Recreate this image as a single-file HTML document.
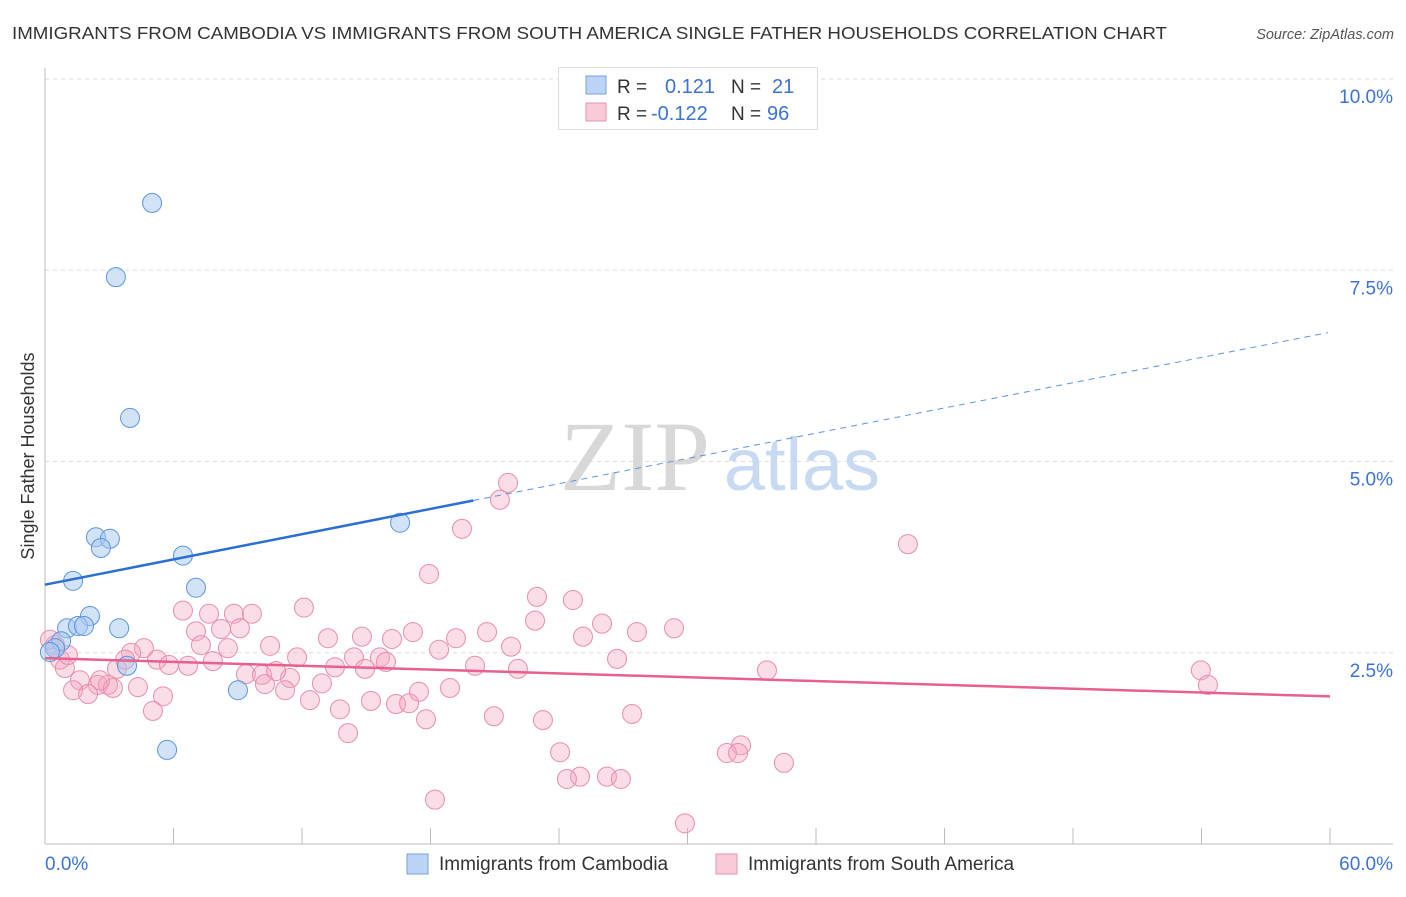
<!DOCTYPE html>
<html><head><meta charset="utf-8"><style>
body{margin:0;background:#fff;font-family:"Liberation Sans",sans-serif}
</style></head><body>
<svg width="1406" height="892" viewBox="0 0 1406 892" xmlns="http://www.w3.org/2000/svg">
<text x="12" y="39" font-size="17.5" fill="#333" textLength="1155" lengthAdjust="spacingAndGlyphs">IMMIGRANTS FROM CAMBODIA VS IMMIGRANTS FROM SOUTH AMERICA SINGLE FATHER HOUSEHOLDS CORRELATION CHART</text>
<text x="1394" y="39" font-size="14.5" fill="#555" font-style="italic" text-anchor="end">Source: ZipAtlas.com</text>
<g id="grid"></g>
<text x="635" y="490" font-size="100" fill="#d8d8d8" font-family="Liberation Serif,serif" text-anchor="middle">ZIP</text>
<text x="802" y="490" font-size="74" fill="#c8daf2" text-anchor="middle">atlas</text>
<g id="axes"></g>
<g id="pts"></g>
<g id="lines"></g>
<text transform="translate(34,456) rotate(-90)" font-size="18" fill="#333" text-anchor="middle">Single Father Households</text>
<g>
<rect x="558.5" y="67.5" width="259" height="62" fill="#fff" stroke="#ddd"/>
<rect x="586" y="76" width="20" height="18" fill="#bcd4f4" stroke="#6f9fe0"/>
<rect x="586" y="103" width="20" height="18" fill="#f9cad8" stroke="#ea93ac"/>
<text x="617" y="93" font-size="19" fill="#333">R = </text><text x="665" y="93" font-size="20" fill="#3b73d4">0.121</text>
<text x="731" y="93" font-size="19" fill="#333">N = </text><text x="772" y="93" font-size="20" fill="#3b73d4">21</text>
<text x="617" y="120" font-size="19" fill="#333">R = </text><text x="651" y="120" font-size="20" fill="#3b73d4">-0.122</text>
<text x="731" y="120" font-size="19" fill="#333">N = </text><text x="767" y="120" font-size="20" fill="#3b73d4">96</text>
</g>
<g>
<rect x="407" y="854" width="21" height="20" fill="#bcd4f4" stroke="#6f9fe0"/>
<text x="439" y="870" font-size="19" fill="#333">Immigrants from Cambodia</text>
<rect x="716" y="854" width="21" height="20" fill="#f9cad8" stroke="#ea93ac"/>
<text x="748" y="870" font-size="19" fill="#333">Immigrants from South America</text>
</g>
</svg>
<script>
const blueX=[5.0,3.31,3.97,2.38,3.03,2.61,6.44,1.31,7.05,2.10,1.03,1.54,1.82,3.46,0.75,0.47,0.23,3.83,9.01,5.70,16.58];
const blueY=[8.38,7.41,5.57,4.01,3.99,3.87,3.77,3.44,3.35,2.98,2.82,2.85,2.85,2.82,2.65,2.56,2.51,2.33,2.01,1.23,4.20];
const pinkX=[21.62,21.24,19.47,40.29,17.93,22.97,24.65,12.09,6.44,7.66,8.82,9.66,22.88,26.01,29.37,7.05,8.22,9.10,17.18,20.64,27.64,25.12,13.21,14.80,16.20,19.19,4.62,7.28,8.54,10.51,21.76,18.40,4.02,11.77,14.43,15.64,5.23,7.84,15.92,26.71,5.79,6.68,20.08,13.54,14.94,22.08,33.71,53.97,3.36,9.38,10.13,11.44,10.79,12.93,1.63,2.47,2.94,3.17,4.34,10.27,11.21,17.46,18.91,54.30,1.31,2.01,5.51,12.37,15.22,16.39,17.00,5.04,13.77,20.96,23.25,27.41,17.79,14.15,24.05,32.50,31.84,32.36,34.50,24.98,24.37,26.24,26.89,18.21,29.88,0.47,0.70,0.93,0.23,1.07,2.57,3.74];
const pinkY=[4.72,4.50,4.12,3.92,3.53,3.23,3.19,3.09,3.05,3.01,3.01,3.01,2.92,2.88,2.82,2.78,2.81,2.82,2.77,2.77,2.77,2.71,2.69,2.71,2.68,2.69,2.56,2.60,2.56,2.59,2.58,2.54,2.50,2.44,2.44,2.44,2.41,2.39,2.38,2.42,2.34,2.33,2.33,2.31,2.29,2.29,2.27,2.27,2.29,2.22,2.21,2.17,2.26,2.10,2.14,2.08,2.08,2.04,2.05,2.09,2.01,1.99,2.04,2.08,2.01,1.96,1.93,1.88,1.87,1.83,1.84,1.74,1.76,1.67,1.62,1.70,1.63,1.45,1.20,1.29,1.19,1.19,1.06,0.88,0.85,0.88,0.85,0.58,0.27,2.60,2.41,2.30,2.67,2.47,2.14,2.41];
const yTicks=[2.5,5,7.5,10];
const yTickLabels=["2.5%","5.0%","7.5%","10.0%"];
const blueTrend=[3.39,6.69];
const pinkTrend=[2.43,1.93];
const blueSolidEnd=20.0;
const NS="http://www.w3.org/2000/svg";
const X=v=>45+v/60*1285, Y=v=>844-v/10*765;
function mk(t,a,p){const e=document.createElementNS(NS,t);for(const k in a)e.setAttribute(k,a[k]);p.appendChild(e);return e;}
const grid=document.getElementById('grid'),axes=document.getElementById('axes'),pts=document.getElementById('pts'),lines=document.getElementById('lines');
yTicks.forEach((t,i)=>{
 const l=mk('line',{x1:45,x2:1393,y1:Y(t),y2:Y(t),stroke:'#ddd','stroke-dasharray':'4,4'},grid);
 
 
 const tx=mk('text',{x:1393,y:Y(t)+24,'font-size':19,fill:'#3b73d4','text-anchor':'end'},grid);
 tx.textContent=yTickLabels[i];
 
 
});
const ya=mk('line',{x1:45,x2:45,y1:68,y2:844,stroke:'#bbb'},axes);


const xa=mk('line',{x1:45,x2:1393,y1:844,y2:844,stroke:'#bbb'},axes);


for(let i=1;i<=10;i++){const t=mk('line',{x1:X(i*6),x2:X(i*6),y1:828,y2:844,stroke:'#bbb'},axes);
 
 }
const x0=mk('text',{x:45,y:870,'font-size':19,fill:'#3b73d4'},axes);x0.textContent='0.0%';


const x1=mk('text',{x:1393,y:870,'font-size':19,fill:'#3b73d4','text-anchor':'end'},axes);x1.textContent='60.0%';


pinkX.forEach((v,i)=>{const c=mk('circle',{cx:X(v),cy:Y(pinkY[i]),r:9.5,fill:'rgba(244,166,191,0.38)',stroke:'#e98ea9','stroke-width':1},pts);
 
 });
blueX.forEach((v,i)=>{const c=mk('circle',{cx:X(v),cy:Y(blueY[i]),r:9.5,fill:'rgba(168,200,240,0.5)',stroke:'#5b95e0','stroke-width':1},pts);
 
 });
const by=x=>blueTrend[0]+(blueTrend[1]-blueTrend[0])*x/60;
const bl=mk('line',{x1:X(0),y1:Y(by(0)),x2:X(blueSolidEnd),y2:Y(by(blueSolidEnd)),stroke:'#2a6fd6','stroke-width':2.5},lines);


const bd=mk('line',{x1:X(blueSolidEnd),y1:Y(by(blueSolidEnd)),x2:X(59.9),y2:Y(by(59.9)),stroke:'#5b95e0','stroke-width':1,'stroke-dasharray':'6,5'},lines);


const pl=mk('line',{x1:X(0),y1:Y(pinkTrend[0]),x2:X(60),y2:Y(pinkTrend[1]),stroke:'#e8608c','stroke-width':2.5},lines);


</script>
</body></html>
